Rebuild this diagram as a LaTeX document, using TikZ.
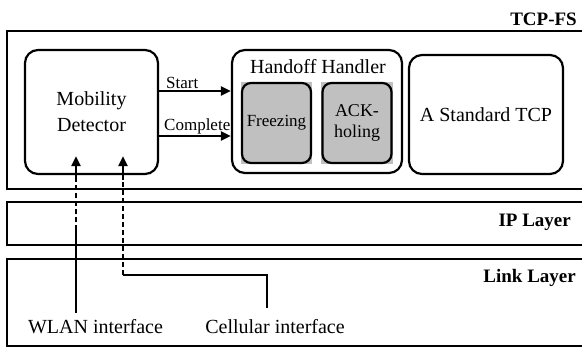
\documentclass[tikz,border=0pt]{standalone}
\usepackage{fontspec}
\setmainfont{Liberation Serif}
\usetikzlibrary{arrows.meta,backgrounds}
\definecolor{boxgray}{RGB}{192,192,192}

\begin{document}
\begin{tikzpicture}[x=1pt, y=-1pt,
	layer/.style={draw, line width=2.8pt},
	lname/.style={anchor=east, inner sep=0pt, font=\fontsize{19}{21}\selectfont\bfseries},
	rbox/.style={draw, line width=2.2pt, rounded corners=13pt, align=center, font=\fontsize{20}{26}\selectfont},
	gbox/.style={draw, line width=2.2pt, rounded corners=9pt, minimum width=69pt, minimum height=80pt, align=center},
	sig/.style={line width=2.2pt, -{Triangle[length=10pt, width=9pt]}},
	iface/.style={line width=2.2pt},
	slabel/.style={inner sep=1pt, font=\fontsize{17}{19}\selectfont},
	txt/.style={inner sep=0pt, font=\fontsize{20}{22}\selectfont}]
	\useasboundingbox (0,0) rectangle (582,348);
	\clip (0,0) rectangle (582,348);

	% layers
	\draw[layer] (7,31) rectangle (600,189);
	\draw[layer] (7,202) rectangle (600,245);
	\draw[layer] (7,259) rectangle (600,346);
	\node[lname] (tcpfs) at (577,19) {TCP-FS};
	\node[lname] (ip) at (571,222) {IP Layer};
	\node[lname] (link) at (576,278) {Link Layer};

	% blocks
	\node[rbox, minimum width=133pt, minimum height=124pt] (md) at (91.5,112) {Mobility\\Detector};
	\node[rbox, minimum width=170pt, minimum height=123pt] (hh) at (317,111.5) {};
	\node[txt] (hhname) at (318,67) {Handoff Handler};
	\node[rbox, minimum width=154pt, minimum height=119pt] (std) at (486,114.5) {A Standard TCP};
	\node[gbox, font=\fontsize{17}{19}\selectfont] (frz) at (276.5,123) {Freezing};
	\node[gbox, font=\fontsize{18}{21}\selectfont] (ack) at (357,123) {ACK-\\holing};
	\begin{scope}[on background layer]
		\fill[boxgray] (frz.south west) rectangle (frz.north east);
		\fill[boxgray] (ack.south west) rectangle (ack.north east);
	\end{scope}

	% signals
	\draw[sig] ([yshift=21pt]md.east) -- ([yshift=21pt]md.east -| hh.west)
		node[slabel, pos=0, anchor=south west, xshift=5pt] {Start};
	\draw[sig] ([yshift=-24pt]md.east) -- ([yshift=-24pt]md.east -| hh.west)
		node[slabel, pos=0, anchor=south west, xshift=3pt] {Complete};

	% interfaces
	\node[txt] (wlan) at (95.5,327) {WLAN interface};
	\node[txt] (cell) at (275,327) {Cellular interface};
	\coordinate (wl0) at (76,313);
	\coordinate (wl1) at (76,230);
	\coordinate (wl2) at (76,180);
	\coordinate (wl3) at ([xshift=-15.5pt, yshift=19pt]md.south);
	\coordinate (ce0) at (267,308);
	\coordinate (ce1) at (267,275);
	\coordinate (ce2) at (123,275);
	\coordinate (ce3) at (123,180);
	\coordinate (ce4) at ([xshift=31.5pt, yshift=19pt]md.south);
	\draw[iface] (wl0) -- (wl1);
	\draw[iface, dash pattern=on 5pt off 3pt] (wl1) -- (wl2);
	\draw[sig] (wl2) -- (wl3);
	\draw[iface] (ce0) -- (ce1) -- (ce2);
	\draw[iface, dash pattern=on 5pt off 3pt] (ce2) -- (ce3);
	\draw[sig] (ce3) -- (ce4);
\end{tikzpicture}
\end{document}
